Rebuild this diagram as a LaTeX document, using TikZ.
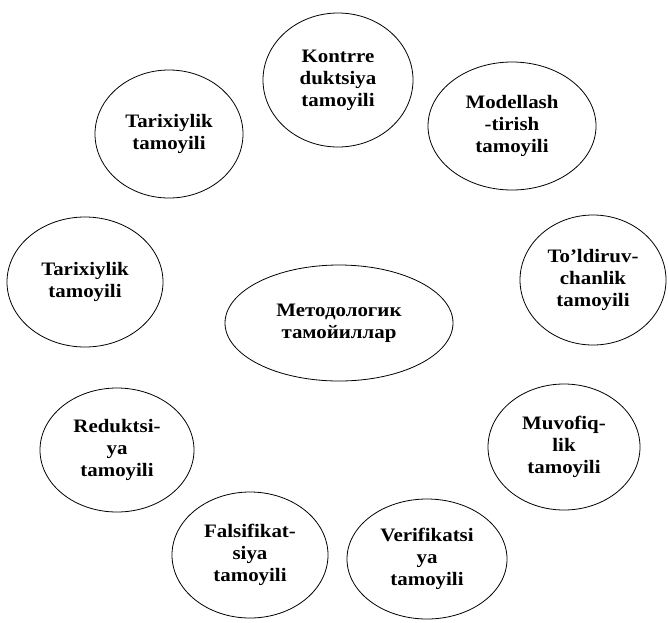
\documentclass[tikz,border=0pt]{standalone}
\usepackage{fontspec}
\setmainfont[FakeStretch=1.1]{Liberation Serif}
\usetikzlibrary{shapes.geometric}

\begin{document}
\begin{tikzpicture}[x=1pt, y=-1pt, line width=0.8pt,
    tamoyil/.style={draw, ellipse, inner sep=0pt, align=center,
      font=\bfseries\fontsize{19}{22}\selectfont}]
  % frame
  \useasboundingbox (0,0) rectangle (668,622);
  % centre
  \node[tamoyil, minimum width=228pt, minimum height=116pt](markaz)at(339,323){Методологик\\тамойиллар};
  % principles round the centre
  \node[tamoyil, minimum width=150pt, minimum height=134pt](kontr)at(338,80){Kontrre\\duktsiya\\tamoyili};
  \node[tamoyil, minimum width=168pt, minimum height=128pt](model)at(512,126){Modellash\\-tirish\\tamoyili};
  \node[tamoyil, minimum width=148pt, minimum height=128pt](tarix1)at(169,134){Tarixiylik\\tamoyili};
  \node[tamoyil, minimum width=146pt, minimum height=130pt](toldir)at(593,280){To’ldiruv-\\chanlik\\tamoyili};
  \node[tamoyil, minimum width=156pt, minimum height=130pt](tarix2)at(85,282){Tarixiylik\\tamoyili};
  \node[tamoyil, minimum width=154pt, minimum height=124pt](redukt)at(117,450){Reduktsi-\\ya\\tamoyili};
  \node[tamoyil, minimum width=152pt, minimum height=126pt](muvof)at(564,447){Muvofiq-\\lik\\tamoyili};
  \node[tamoyil, minimum width=156pt, minimum height=126pt](falsif)at(250,555){Falsifikat-\\siya\\tamoyili};
  \node[tamoyil, minimum width=160pt, minimum height=120pt](verif)at(427,559){Verifikatsi\\ya\\tamoyili};
\end{tikzpicture}
\end{document}
